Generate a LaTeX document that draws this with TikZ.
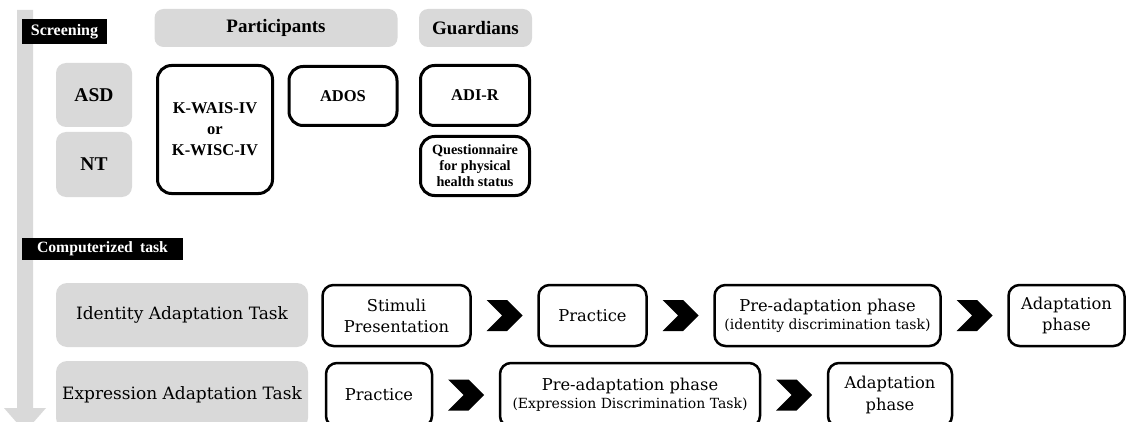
\documentclass[tikz,border=0pt]{standalone}
\usepackage{fontspec}
\setmainfont{Liberation Serif}
\newfontfamily\taskfont{DejaVu Serif}
\usetikzlibrary{positioning,shapes.symbols}
\definecolor{panelgray}{HTML}{D9D9D9}

\begin{document}
\begin{tikzpicture}[x=1pt,y=-1pt,node distance=68pt,
  every node/.style={inner sep=0pt,outer sep=0pt,align=center},
  tag/.style={fill=black,text=white,font=\bfseries\fontsize{16}{18}\selectfont},
  head/.style={fill=panelgray,rounded corners=9pt,minimum height=38pt,
               font=\bfseries\fontsize{19}{20}\selectfont},
  group/.style={fill=panelgray,rounded corners=10pt,minimum width=76pt,
               font=\bfseries\fontsize{19.5}{20}\selectfont},
  test/.style={draw,line width=3pt,rounded corners=14pt,
               font=\bfseries\fontsize{16.5}{21}\selectfont},
  task/.style={fill=panelgray,rounded corners=11pt,minimum width=252pt,
               font=\taskfont\fontsize{17}{20}\selectfont},
  stepbox/.style={draw,line width=2.5pt,rounded corners=11pt,minimum height=61pt,
                  font=\taskfont\fontsize{16.3}{21}\selectfont},
  chev/.style={signal,signal from=west,signal to=east,fill=black,
               minimum width=36pt,minimum height=31pt}]

  \clip (0,0) rectangle (1131,422);

  % time line
  \fill[panelgray] (17,10) -- (33,10) -- (33,408) -- (46,408) -- (25,432)
                   -- (4,408) -- (17,408) -- cycle;

  % screening
  \node[tag,minimum width=85pt,minimum height=25pt] (scr) at (64.5,31.5) {Screening};

  \node[head,minimum width=243pt] (part)  at (276,28)   {Participants};
  \node[head,minimum width=113pt] (guard) at (475.5,28) {Guardians};

  \node[group,minimum height=64pt] (asd) at (94,95)    {ASD};
  \node[group,minimum height=65pt] (nt)  at (94,164.5) {NT};

  \node[test,minimum width=115pt,minimum height=128pt] (kwais) at (215,129.5)
       {K-WAIS-IV\\or\\K-WISC-IV};
  \node[test,minimum width=108pt,minimum height=59pt] (ados) at (343,96) {ADOS};
  \node[test,minimum width=109pt,minimum height=60pt] (adir) at (475,95.5) {ADI-R};
  \node[test,minimum width=109pt,minimum height=59pt,
        font=\bfseries\fontsize{14.2}{16}\selectfont] (quest) at (475,166)
       {Questionnaire\\for physical\\health status};

  % computerized task
  \node[tag,minimum width=161pt,minimum height=22pt,font=\bfseries\fontsize{15.7}{17}\selectfont]
       (comp) at (102.5,249) {Computerized\hspace{0.45em}task};

  \node[task,minimum height=64pt] (iat) at (182,315) {Identity Adaptation Task};
  \node[task,minimum height=68pt] (eat) at (182,395) {Expression Adaptation Task};

  \node[stepbox,minimum width=148pt] (stim) at (396.5,315.5) {Stimuli\\Presentation};
  \node[stepbox,minimum width=108pt] (prac1) [right=of stim] {Practice};
  \node[stepbox,minimum width=226pt] (pre1) [right=of prac1]
       {Pre-adaptation phase\\[-3pt]{\fontsize{14}{16}\selectfont(identity discrimination task)}};
  \node[stepbox,minimum width=116pt] (adapt1) [right=of pre1] {Adaptation\\phase};

  \node[stepbox,minimum width=106pt,minimum height=64pt] (prac2) at (379,395) {Practice};
  \node[stepbox,minimum width=260pt,minimum height=64pt] (pre2) [right=of prac2]
       {Pre-adaptation phase\\[-3pt]{\fontsize{14}{16}\selectfont(Expression Discrimination Task)}};
  \node[stepbox,minimum width=124pt,minimum height=64pt] (adapt2) [right=of pre2]
       {Adaptation\\phase};

  \path (stim)  -- node[chev] {} (prac1)
        (prac1) -- node[chev] {} (pre1)
        (pre1)  -- node[chev] {} (adapt1)
        (prac2) -- node[chev] {} (pre2)
        (pre2)  -- node[chev] {} (adapt2);
\end{tikzpicture}
\end{document}
